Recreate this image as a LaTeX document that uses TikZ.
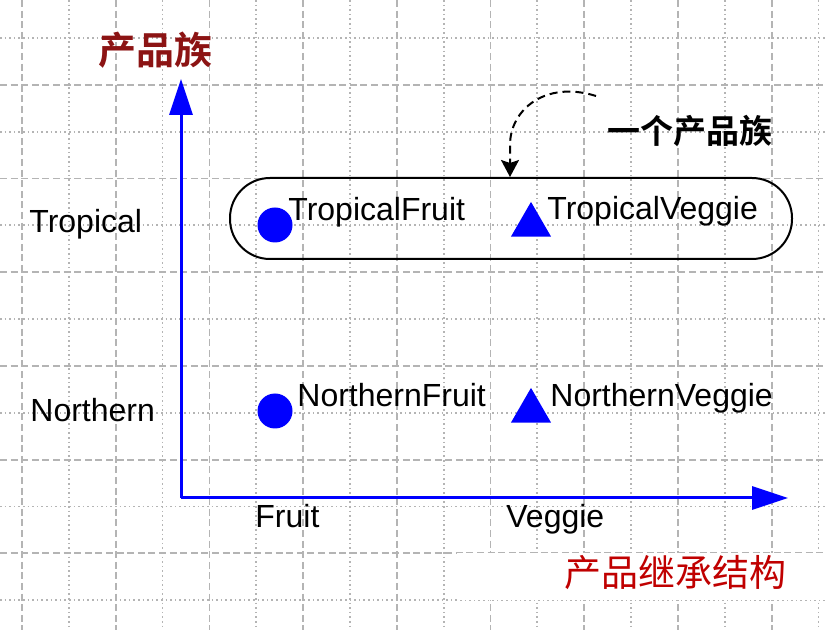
\documentclass[tikz,border=0pt]{standalone}
\usepackage{fontspec}
\setmainfont{Liberation Sans}
\newfontfamily\cjkfont[BoldFont={Noto Sans CJK SC Bold}]{Noto Sans CJK SC}
\usetikzlibrary{arrows.meta,shapes.geometric}
\definecolor{gridgray}{RGB}{180,180,180}
\definecolor{titlered}{RGB}{140,20,20}
\definecolor{notered}{RGB}{192,0,0}
\tikzset{
  major/.style={gridgray, line width=0.9pt, dash pattern=on 3.5pt off 1.8pt},
  minor/.style={gridgray, line width=0.9pt, dash pattern=on 0.8pt off 1.5pt},
  axis/.style={blue, line width=1.5pt, -{Triangle[length=18pt,width=11.5pt]}},
  fruitdot/.style={circle, fill=blue, inner sep=0pt, minimum size=17.5pt},
  veggietri/.style={regular polygon, regular polygon sides=3, fill=blue, inner sep=0pt, minimum size=23.1pt},
  prodtext/.style={font=\fontsize{16}{19}\selectfont, inner sep=0pt, anchor=base west},
  famarrow/.style={line width=1pt, dash pattern=on 4pt off 2.5pt, -{Stealth[length=8.5pt,width=9pt,inset=1.5pt]}},
}

\begin{document}
\begin{tikzpicture}[x=0.5pt, y=-0.5pt]
		\useasboundingbox (0,0) rectangle (825,630);
		% grid
		\foreach \i in {0,...,17}{
			\ifodd\i \draw[minor] ({22+46.85*\i},0) -- ({22+46.85*\i},630);
			\else \draw[major] ({22+46.85*\i},0) -- ({22+46.85*\i},630); \fi
		}
		\foreach \j in {0,...,12}{
			\ifodd\j \draw[major] (0,{38+46.85*\j}) -- (825,{38+46.85*\j});
			\else \draw[minor] (0,{38+46.85*\j}) -- (825,{38+46.85*\j}); \fi
		}
		\fill[white] (457,553) rectangle (825,600);

		% axes
		\coordinate (origin) at (181,498);
		\coordinate (ytip) at (181,79);
		\coordinate (xtip) at (788,498);
		\draw [axis] (origin) -- (ytip);
		\draw [axis] (origin) -- (xtip);

		% one family
		\node [draw, line width=1pt, rounded corners=20pt, minimum width=281pt, minimum height=40.5pt] (tropbox) at (511,218.5) {};

		\node [fruitdot] (tf) at (275,225) {};
		\node [veggietri] (tv) at (531,225) {};
		\node [fruitdot] (nf) at (275,411) {};
		\node [veggietri] (nv) at (531,411) {};

		\node [prodtext] (tfl) at (288,221) {TropicalFruit};
		\node [prodtext] (tvl) at (547,220) {TropicalVeggie};
		\node [prodtext] (nfl) at (297,407) {NorthernFruit};
		\node [prodtext] (nvl) at (550,407) {NorthernVeggie};

		\node [prodtext] (trop) at (29,233) {Tropical};
		\node [prodtext] (north) at (30,422) {Northern};
		\node [prodtext] (fruit) at (255,528) {Fruit};
		\node [prodtext] (veggie) at (506,528) {Veggie};

		\node [font=\cjkfont\bfseries\fontsize{19}{22}\selectfont, text=titlered, inner sep=0pt] (famtitle) at (155,50) {产品族};
		\node [font=\cjkfont\bfseries\fontsize{16.5}{20}\selectfont, inner sep=0pt] (famnote) at (690,131) {一个产品族};
		\node [font=\cjkfont\fontsize{18.5}{22}\selectfont, text=notered, inner sep=0pt] (hiernote) at (675,573) {产品继承结构};

		\coordinate (bend) at (596,96);
		\coordinate (arrowx) at (510,0);
		\draw [famarrow] (bend) .. controls (545,80) and (510,110) .. (510,145) -- (arrowx |- tropbox.north);
\end{tikzpicture}
\end{document}
